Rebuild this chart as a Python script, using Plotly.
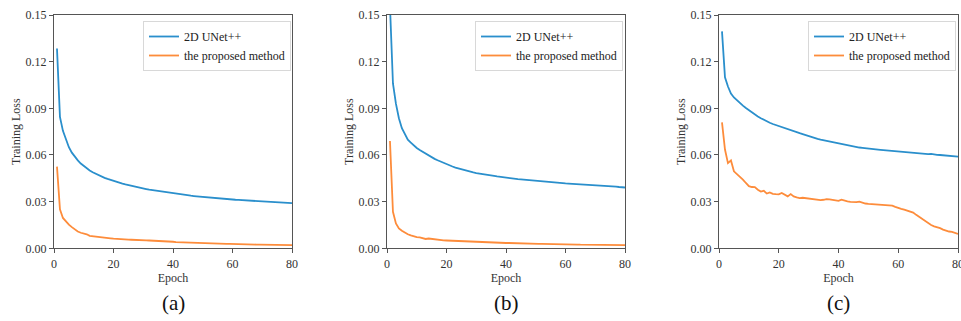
import plotly.graph_objects as go

epochs = list(range(1, 81))

unetpp_a = [0.1285, 0.0845, 0.0755, 0.0695, 0.0650, 0.0615, 0.0588, 0.0565, 0.0545, 0.0528,
            0.0513, 0.0500, 0.0489, 0.0479, 0.0470, 0.0461, 0.0453, 0.0446, 0.0439, 0.0433,
            0.0427, 0.0421, 0.0416, 0.0411, 0.0406, 0.0401, 0.0397, 0.0393, 0.0389, 0.0385,
            0.0381, 0.0377, 0.0374, 0.0370, 0.0367, 0.0364, 0.0361, 0.0358, 0.0355, 0.0352,
            0.0350, 0.0347, 0.0345, 0.0342, 0.0340, 0.0338, 0.0336, 0.0334, 0.0332, 0.0330,
            0.0328, 0.0326, 0.0325, 0.0323, 0.0321, 0.0320, 0.0318, 0.0317, 0.0315, 0.0314,
            0.0312, 0.0311, 0.0310, 0.0308, 0.0307, 0.0306, 0.0305, 0.0303, 0.0302, 0.0301,
            0.0300, 0.0299, 0.0298, 0.0297, 0.0296, 0.0295, 0.0294, 0.0293, 0.0292, 0.0290]
proposed_a = [0.0525, 0.0250, 0.0195, 0.0170, 0.0152, 0.0136, 0.0121, 0.0108, 0.0100, 0.0095,
              0.0090, 0.0080, 0.0077, 0.0075, 0.0072, 0.0069, 0.0066, 0.0065, 0.0064, 0.0062,
              0.0060, 0.0059, 0.0058, 0.0057, 0.0056, 0.0055, 0.0055, 0.0054, 0.0053, 0.0052,
              0.0051, 0.0050, 0.0049, 0.0048, 0.0049, 0.0047, 0.0046, 0.0048, 0.0045, 0.0042,
              0.0040, 0.0039, 0.0038, 0.0037, 0.0036, 0.0035, 0.0034, 0.0034, 0.0033, 0.0033,
              0.0032, 0.0031, 0.0031, 0.0030, 0.0030, 0.0029, 0.0029, 0.0028, 0.0028, 0.0027,
              0.0027, 0.0026, 0.0026, 0.0026, 0.0025, 0.0025, 0.0025, 0.0024, 0.0024, 0.0024,
              0.0023, 0.0023, 0.0023, 0.0023, 0.0022, 0.0022, 0.0022, 0.0022, 0.0021, 0.0021]

unetpp_b = [0.1560, 0.1060, 0.0930, 0.0836, 0.0772, 0.0730, 0.0698, 0.0680, 0.0660, 0.0645,
            0.0632, 0.0620, 0.0609, 0.0597, 0.0585, 0.0575, 0.0566, 0.0557, 0.0548, 0.0540,
            0.0533, 0.0526, 0.0519, 0.0513, 0.0507, 0.0502, 0.0497, 0.0492, 0.0488, 0.0484,
            0.0480, 0.0477, 0.0474, 0.0471, 0.0468, 0.0465, 0.0462, 0.0459, 0.0456, 0.0453,
            0.0451, 0.0449, 0.0447, 0.0445, 0.0443, 0.0441, 0.0439, 0.0437, 0.0435, 0.0433,
            0.0431, 0.0429, 0.0428, 0.0426, 0.0425, 0.0423, 0.0422, 0.0420, 0.0419, 0.0417,
            0.0416, 0.0415, 0.0413, 0.0412, 0.0411, 0.0409, 0.0408, 0.0407, 0.0406, 0.0404,
            0.0403, 0.0402, 0.0401, 0.0400, 0.0398, 0.0397, 0.0396, 0.0394, 0.0393, 0.0391]
proposed_b = [0.0690, 0.0235, 0.0160, 0.0128, 0.0113, 0.0100, 0.0090, 0.0083, 0.0076, 0.0072,
              0.0070, 0.0066, 0.0060, 0.0063, 0.0060, 0.0057, 0.0055, 0.0053, 0.0051, 0.0050,
              0.0049, 0.0048, 0.0047, 0.0046, 0.0045, 0.0045, 0.0044, 0.0043, 0.0042, 0.0042,
              0.0041, 0.0041, 0.0040, 0.0039, 0.0039, 0.0038, 0.0037, 0.0036, 0.0035, 0.0034,
              0.0034, 0.0033, 0.0033, 0.0032, 0.0032, 0.0031, 0.0031, 0.0030, 0.0029, 0.0029,
              0.0028, 0.0028, 0.0028, 0.0027, 0.0027, 0.0026, 0.0026, 0.0026, 0.0025, 0.0025,
              0.0025, 0.0024, 0.0024, 0.0024, 0.0023, 0.0023, 0.0023, 0.0023, 0.0022, 0.0022,
              0.0022, 0.0022, 0.0022, 0.0021, 0.0021, 0.0021, 0.0021, 0.0021, 0.0021, 0.0021]

unetpp_c = [0.1395, 0.1100, 0.1040, 0.0995, 0.0970, 0.0950, 0.0933, 0.0917, 0.0902, 0.0888,
            0.0873, 0.0858, 0.0847, 0.0836, 0.0825, 0.0815, 0.0807, 0.0799, 0.0792, 0.0786,
            0.0780, 0.0772, 0.0765, 0.0759, 0.0752, 0.0746, 0.0740, 0.0734, 0.0727, 0.0720,
            0.0714, 0.0708, 0.0703, 0.0698, 0.0694, 0.0690, 0.0686, 0.0681, 0.0676, 0.0672,
            0.0668, 0.0664, 0.0661, 0.0657, 0.0654, 0.0651, 0.0648, 0.0646, 0.0643, 0.0641,
            0.0639, 0.0637, 0.0635, 0.0633, 0.0631, 0.0629, 0.0627, 0.0625, 0.0623, 0.0621,
            0.0619, 0.0618, 0.0616, 0.0615, 0.0613, 0.0612, 0.0610, 0.0609, 0.0607, 0.0605,
            0.0607, 0.0603, 0.0601, 0.0600, 0.0598, 0.0597, 0.0595, 0.0593, 0.0591, 0.0589]
proposed_c = [0.0810, 0.0635, 0.0548, 0.0565, 0.0495, 0.0478, 0.0462, 0.0442, 0.0420, 0.0400,
              0.0394, 0.0393, 0.0377, 0.0365, 0.0370, 0.0352, 0.0359, 0.0350, 0.0348, 0.0347,
              0.0356, 0.0343, 0.0334, 0.0349, 0.0334, 0.0328, 0.0323, 0.0325, 0.0322, 0.0318,
              0.0317, 0.0316, 0.0312, 0.0310, 0.0312, 0.0316, 0.0315, 0.0311, 0.0306, 0.0305,
              0.0313, 0.0305, 0.0301, 0.0298, 0.0296, 0.0297, 0.0300, 0.0292, 0.0288, 0.0285,
              0.0284, 0.0283, 0.0282, 0.0282, 0.0281, 0.0279, 0.0276, 0.0274, 0.0266, 0.0258,
              0.0254, 0.0249, 0.0244, 0.0239, 0.0230, 0.0215, 0.0202, 0.0188, 0.0172, 0.0160,
              0.0150, 0.0141, 0.0137, 0.0130, 0.0120, 0.0113, 0.0108, 0.0106, 0.0099, 0.0092]

series_names = ["2D UNet++", "the proposed method"]
panel_labels = ["(a)", "(b)", "(c)"]
x_ticks = [0, 20, 40, 60, 80]
y_ticks = [0.0, 0.03, 0.06, 0.09, 0.12, 0.15]

panels = [(unetpp_a, proposed_a), (unetpp_b, proposed_b), (unetpp_c, proposed_c)]

W, H = 961, 321
BLUE = "#2a8fcc"
ORANGE = "#fd8c3b"
FONT = "Liberation Serif"

x_dom_px = [(54, 292), (387, 625), (719, 958)]
y_dom = [1 - 248.3 / H, 1 - 15 / H]
legend_left_px = [143, 475, 808]

fig = go.Figure()
layout = dict(
    width=W, height=H,
    margin=dict(l=0, r=0, t=0, b=0, autoexpand=False),
    paper_bgcolor="white", plot_bgcolor="white",
    font=dict(family=FONT, size=12, color="#222"),
    showlegend=True,
)
annotations = []
for i, (blue, orange) in enumerate(panels):
    sfx = "" if i == 0 else str(i + 1)
    leg = "legend" if i == 0 else f"legend{i + 1}"
    fig.add_trace(go.Scatter(x=epochs, y=blue, mode="lines", name=series_names[0],
                             line=dict(color=BLUE, width=1.8),
                             xaxis="x" + sfx, yaxis="y" + sfx, legend=leg))
    fig.add_trace(go.Scatter(x=epochs, y=orange, mode="lines", name=series_names[1],
                             line=dict(color=ORANGE, width=1.8),
                             xaxis="x" + sfx, yaxis="y" + sfx, legend=leg))
    x0, x1 = x_dom_px[i]
    axcommon = dict(showgrid=False, zeroline=False, showline=True, mirror=True,
                    automargin=False,
                    linecolor="#555", linewidth=1, ticks="outside", ticklen=4,
                    tickcolor="#555", tickfont=dict(family=FONT, size=12, color="#333"))
    layout["xaxis" + sfx] = dict(domain=[x0 / W, x1 / W], range=[0, 80],
                                 tickvals=x_ticks, anchor="y" + sfx,
                                 ticklabeloverflow="allow",
                                 title=dict(text="Epoch", standoff=2,
                                            font=dict(family=FONT, size=12, color="#333")),
                                 **axcommon)
    layout["yaxis" + sfx] = dict(domain=y_dom, range=[0, 0.15], tickvals=y_ticks,
                                 tickformat=".2f", anchor="x" + sfx,
                                 title=dict(text="Training Loss", standoff=2,
                                            font=dict(family=FONT, size=12, color="#333")),
                                 **axcommon)
    layout[leg] = dict(x=legend_left_px[i] / W, y=1 - 21 / H, xanchor="left", yanchor="top",
                       bgcolor="rgba(255,255,255,0.9)", bordercolor="#d8d8d8", borderwidth=1,
                       font=dict(family=FONT, size=12, color="#222"), itemwidth=30,
                       tracegroupgap=0)
    annotations.append(dict(text=panel_labels[i], x=(x0 + x1) / 2 / W, y=1 - 303 / H,
                            xref="paper", yref="paper", showarrow=False,
                            xanchor="center", yanchor="middle",
                            font=dict(family=FONT, size=21, color="#111")))
layout["annotations"] = annotations
fig.update_layout(**layout)
fig.write_html("out.html", config={"displayModeBar": False},
               post_script="document.body.style.margin='0';document.body.style.overflow='hidden';")
